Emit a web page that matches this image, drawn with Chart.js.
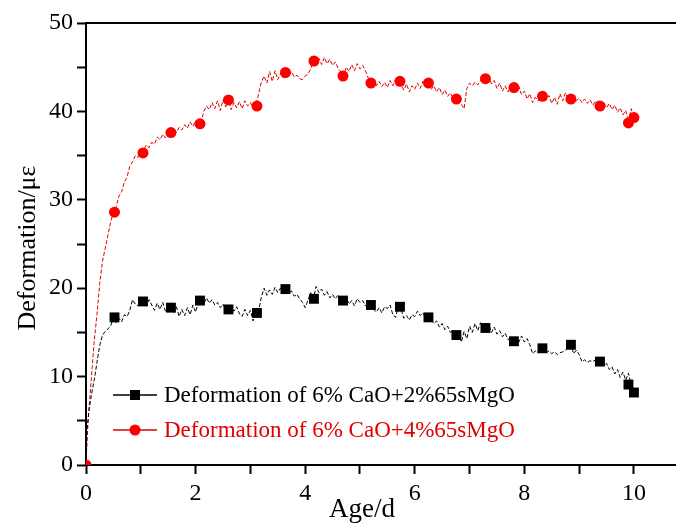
<!DOCTYPE html>
<html><head><meta charset="utf-8">
<script src="https://cdn.jsdelivr.net/npm/chart.js@4/dist/chart.umd.min.js"></script>
<style>html,body{margin:0;padding:0;background:#fff}</style>
</head><body>
<canvas id="c" width="676" height="523"></canvas>
<script>
// ---- data ----
const ages = [0,0.02,0.05,0.1,0.15,0.2,0.25,0.3,0.35,0.4,0.45,
0.5,0.55,0.6,0.65,0.7,0.75,0.8,0.85,0.9,0.95,1.0,
1.05,1.1,1.15,1.2,1.25,1.3,1.35,1.4,1.45,1.5,
1.55,1.6,1.65,1.7,1.75,1.8,1.85,1.9,1.95,2.0,
2.05,2.1,2.15,2.2,2.25,2.3,2.35,2.4,2.45,2.5,
2.55,2.6,2.65,2.7,2.75,2.8,2.85,2.9,2.95,3.0,
3.05,3.1,3.15,3.2,3.25,3.3,3.35,3.4,3.45,3.5,
3.55,3.6,3.65,3.7,3.75,3.8,3.85,3.9,3.95,4.0,
4.05,4.1,4.15,4.2,4.25,4.3,4.35,4.4,4.45,4.5,
4.55,4.6,4.65,4.7,4.75,4.8,4.85,4.9,4.95,5.0,
5.05,5.1,5.15,5.2,5.25,5.3,5.35,5.4,5.45,5.5,
5.55,5.6,5.65,5.7,5.75,5.8,5.85,5.9,5.95,6.0,
6.05,6.1,6.15,6.2,6.25,6.3,6.35,6.4,6.45,6.5,
6.55,6.6,6.65,6.7,6.75,6.8,6.85,6.9,6.95,7.0,
7.05,7.1,7.15,7.2,7.25,7.3,7.35,7.4,7.45,7.5,
7.55,7.6,7.65,7.7,7.75,7.8,7.85,7.9,7.95,8.0,
8.05,8.1,8.15,8.2,8.25,8.3,8.35,8.4,8.45,8.5,
8.55,8.6,8.65,8.7,8.75,8.8,8.85,8.9,8.95,9.0,
9.05,9.1,9.15,9.2,9.25,9.3,9.35,9.4,9.45,9.5,
9.55,9.6,9.65,9.7,9.75,9.8,9.85,9.9,9.95,10.0];

const blackLine = [0,4,6,8,9.6,11.6,13.5,14.7,15.1,15.4,15.7,
16.7,16.1,16.6,16.2,17.0,16.8,17.5,18.7,18.2,18.0,18.4,
18.5,18.0,18.7,18.1,17.5,18.3,17.6,18.4,17.4,17.9,
17.8,17.2,17.9,16.8,17.6,16.9,17.8,17.0,18.1,17.3,
18.4,18.6,18.2,18.9,18.3,18.7,18.1,18.4,17.8,18.2,
17.5,17.6,18.0,17.4,17.9,17.1,16.8,17.6,16.9,17.5,
16.3,17.2,17.4,19.0,20.0,19.2,19.8,19.3,20.1,19.5,
20.0,19.6,19.9,19.4,19.7,19.1,19.3,18.8,18.4,17.8,
18.6,19.5,18.8,20.2,19.5,19.9,19.2,19.6,18.9,19.3,
18.8,19.2,18.6,18.6,18.9,18.2,18.6,18.0,18.8,18.4,
18.6,18.0,18.3,18.1,17.6,17.3,17.8,17.2,17.9,17.7,
18.1,17.0,16.7,17.9,17.6,16.6,16.9,16.4,17.0,16.8,
17.4,16.9,17.2,16.6,16.7,16.4,16.0,16.3,15.6,16.0,
15.3,15.7,15.0,15.2,14.7,14.9,13.9,15.1,14.3,15.7,
15.0,16.0,15.2,16.1,15.4,15.5,15.9,15.0,15.6,14.8,
15.2,14.5,14.9,14.2,14.3,14.0,14.0,13.9,14.6,13.9,
14.3,13.6,12.6,12.9,12.7,13.2,13.1,12.7,12.9,12.6,
12.8,12.5,12.7,12.8,13.0,13.3,13.6,12.6,13.0,12.5,
11.7,11.9,11.6,11.8,11.7,11.9,11.5,11.7,11.2,11.5,
10.8,11.1,10.3,10.8,9.9,10.5,9.6,10.4,9.1,8.2];

const redLine = [0,3,6,10,14,17,20.5,23,24.5,26,27.5,
28.6,29.2,30.4,30.9,32.0,32.6,33.8,34.3,35.0,34.8,35.3,
35.6,36.2,35.9,36.5,36.3,37.1,36.8,37.4,37.0,37.6,
37.5,38.0,37.6,38.2,37.9,38.5,38.1,38.8,38.3,38.9,
38.6,38.7,40.0,40.6,40.2,41.0,40.3,41.2,40.1,41.3,
40.5,41.3,40.2,41.0,40.4,41.1,40.3,41.2,40.6,41.0,
40.4,40.6,42.0,43.3,44.0,43.2,44.5,43.4,44.6,43.6,
44.3,43.8,44.4,44.0,44.5,43.9,44.1,43.7,43.6,44.0,
44.2,44.8,45.7,45.2,46.0,45.3,46.1,45.4,45.9,45.2,
45.6,44.9,44.5,44.0,45.0,44.5,45.3,44.6,45.4,44.8,
45.2,44.6,43.8,43.2,43.6,42.9,43.4,42.8,43.3,42.7,
43.5,42.9,43.6,43.4,43.0,42.4,43.1,42.2,42.9,42.5,
43.2,42.6,43.4,42.9,43.2,42.5,42.9,42.2,42.7,41.9,
42.4,41.7,42.1,41.5,41.3,41.9,40.8,40.3,42.6,43.2,
42.9,43.3,43.0,43.5,43.8,43.6,44.0,43.1,43.5,42.6,
43.2,42.3,42.9,42.2,42.8,42.7,42.3,42.8,41.9,42.3,
41.4,42.0,41.0,41.6,41.2,41.9,41.7,41.3,41.8,40.9,
41.6,40.8,42.0,41.2,42.1,41.3,41.4,41.8,41.2,41.5,
41.0,41.4,40.9,41.3,40.7,41.2,40.8,40.6,41.0,40.4,
40.9,40.2,40.7,39.9,40.4,39.6,40.1,38.8,40.3,39.2];

const blackMarkerAges = [0.52,1.04,1.55,2.08,2.6,3.12,3.64,4.16,4.69,5.2,5.73,6.25,6.76,7.29,7.81,8.33,8.85,9.38,9.9,10.0];
const blackMarkers    = [16.7,18.5,17.8,18.6,17.6,17.2,19.9,18.8,18.6,18.1,17.9,16.7,14.7,15.5,14.0,13.2,13.6,11.7,9.1,8.2];
const redMarkerAges   = [0,0.52,1.04,1.55,2.08,2.6,3.12,3.64,4.16,4.69,5.2,5.73,6.25,6.76,7.29,7.81,8.33,8.85,9.38,9.9,10.0];
const redMarkers      = [0,28.6,35.3,37.6,38.6,41.3,40.6,44.4,45.7,44.0,43.2,43.4,43.2,41.4,43.7,42.7,41.7,41.4,40.6,38.7,39.3];

const xTickLabels = ['0','2','4','6','8','10'];
const yTickLabels = ['0','10','20','30','40','50'];
const seriesNames = ['Deformation of 6% CaO+2%65sMgO','Deformation of 6% CaO+4%65sMgO'];
const xTitle = 'Age/d';
const yTitle = 'Deformation/με';

// ---- styling ----
const FONT = "'Liberation Serif','Times New Roman',serif";
const BLACK = '#000000';
const RED = '#ff0000';
const REDLINE = '#dd0000';

const pts = (xs, ys) => xs.map((x, i) => ({x, y: ys[i]}));

const framePlugin = {
  id: 'frame',
  afterDraw(chart) {
    const {ctx, chartArea: a} = chart;
    ctx.save();
    ctx.strokeStyle = '#000'; ctx.lineWidth = 2;
    ctx.beginPath(); ctx.moveTo(a.left - 1, a.top); ctx.lineTo(chart.width, a.top); ctx.stroke();
    ctx.beginPath(); ctx.moveTo(a.right - 2, a.bottom); ctx.lineTo(chart.width, a.bottom); ctx.stroke();
    ctx.fillStyle = '#000';
    ctx.font = "27px " + FONT;
    ctx.textAlign = 'center'; ctx.textBaseline = 'alphabetic';
    ctx.fillText(xTitle, 362, 517);
    ctx.save();
    ctx.translate(28, 248); ctx.rotate(-Math.PI / 2);
    ctx.font = "26px " + FONT; ctx.textBaseline = 'middle';
    ctx.fillText(yTitle, 0, 0);
    ctx.restore();
    const items = [
      {y: 395, color: BLACK, line: BLACK, text: seriesNames[0], shape: 'rect'},
      {y: 430, color: RED, line: REDLINE, text: seriesNames[1], shape: 'circle'}
    ];
    items.forEach(it => {
      ctx.strokeStyle = it.line; ctx.lineWidth = 1.3;
      ctx.beginPath(); ctx.moveTo(113, it.y); ctx.lineTo(157, it.y); ctx.stroke();
      ctx.fillStyle = it.color;
      if (it.shape === 'rect') { ctx.fillRect(130, it.y - 5, 10, 10); }
      else { ctx.beginPath(); ctx.arc(135, it.y, 5.5, 0, Math.PI * 2); ctx.fill(); }
      ctx.font = "23px " + FONT; ctx.textAlign = 'left'; ctx.textBaseline = 'middle';
      ctx.fillStyle = it.color === RED ? '#e00000' : '#000';
      ctx.fillText(it.text, 164, it.y + 1);
    });
    ctx.restore();
  }
};

new Chart(document.getElementById('c'), {
  type: 'scatter',
  data: {
    datasets: [
      {label: seriesNames[1] + ' markers', data: pts(redMarkerAges, redMarkers), pointStyle: 'circle', pointRadius: 5.5, pointHoverRadius: 5.5,
       backgroundColor: RED, borderColor: RED, borderWidth: 0, showLine: false},
      {label: seriesNames[0] + ' markers', data: pts(blackMarkerAges, blackMarkers), pointStyle: 'rect', pointRadius: 7, pointHoverRadius: 7,
       backgroundColor: BLACK, borderColor: BLACK, borderWidth: 0, showLine: false},
      {label: seriesNames[0], data: pts(ages, blackLine), showLine: true, pointRadius: 0, borderColor: BLACK, borderWidth: 1,
       borderDash: [4, 2], tension: 0},
      {label: seriesNames[1], data: pts(ages, redLine), showLine: true, pointRadius: 0, borderColor: REDLINE, borderWidth: 1,
       borderDash: [4, 2], tension: 0}
    ]
  },
  options: {
    responsive: false, animation: false, devicePixelRatio: 1,
    layout: {padding: {top: 23, left: 0, right: 0, bottom: 0}},
    plugins: {legend: {display: false}, tooltip: {enabled: false}},
    scales: {
      x: {
        type: 'linear', min: 0, max: 10.64,
        afterFit: s => { s.height = 58; s.paddingRight = 0; },
        ticks: {stepSize: 1, includeBounds: false, autoSkip: false, maxRotation: 0, padding: 5, color: '#000', font: {family: FONT, size: 24},
          callback: v => xTickLabels.includes(String(v)) ? String(v) : ''},
        grid: {drawOnChartArea: false, drawTicks: true, tickLength: 9, tickColor: '#000', tickWidth: 2},
        border: {color: '#000', width: 2}
      },
      y: {
        type: 'linear', min: 0, max: 50,
        afterFit: s => { s.width = 86; },
        ticks: {stepSize: 5, autoSkip: false, padding: 4, color: '#000', font: {family: FONT, size: 24},
          callback: v => yTickLabels.includes(String(v)) ? String(v) : ''},
        grid: {drawOnChartArea: false, drawTicks: true, tickLength: 9, tickColor: '#000', tickWidth: 2},
        border: {color: '#000', width: 2}
      }
    }
  },
  plugins: [framePlugin]
});
</script>
</body></html>
